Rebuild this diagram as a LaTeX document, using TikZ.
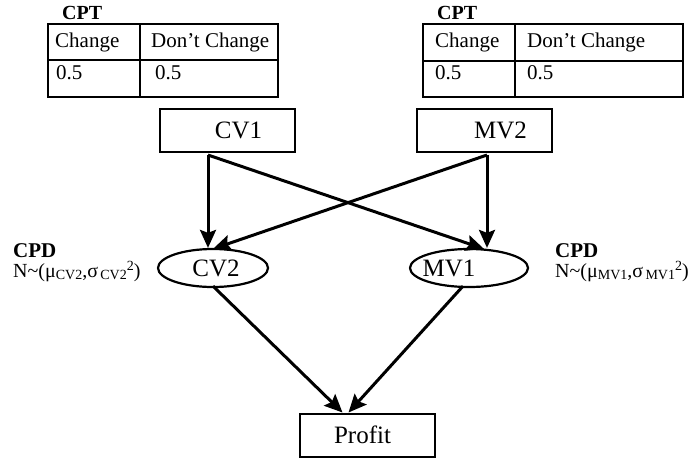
\documentclass[tikz,border=0pt]{standalone}
\usepackage{fontspec}
\setmainfont{Liberation Serif}
\usetikzlibrary{arrows.meta,shapes.geometric,calc}

\newcommand{\subx}[1]{\raisebox{-2.5pt}{\fontsize{14}{14}\selectfont #1}}
\newcommand{\supx}[1]{\raisebox{7pt}{\fontsize{14}{14}\selectfont #1}}

\begin{document}
\begin{tikzpicture}[x=1pt,y=-1pt,
  tbl/.style={line width=1.3pt},
  cell/.style={anchor=base west,inner sep=0pt,font=\fontsize{21}{24}\selectfont},
  ncell/.style={anchor=base west,inner sep=0pt,font=\fontsize{20}{24}\selectfont},
  ttl/.style={anchor=base west,inner sep=0pt,font=\fontsize{20}{22}\selectfont\bfseries},
  varbox/.style={draw,line width=2pt,rectangle,minimum width=135pt,minimum height=43pt,inner sep=0pt},
  varell/.style={draw,line width=2.2pt,ellipse,inner sep=0pt},
  lbl/.style={inner sep=0pt,font=\fontsize{25}{28}\selectfont},
  arr/.style={line width=3pt,-{Stealth[length=18pt,width=16pt,inset=3pt]}},
]
\useasboundingbox (0,0) rectangle (688,458);

% left CPT table
\draw[tbl] (48,24) rectangle (278,97);
\draw[tbl] (48,60) -- (278,60);
\draw[tbl] (140,24) -- (140,97);
\node[ttl] (cpt1) at (62,19) {CPT};
\node[cell] (c1a) at (55,47) {Change};
\node[cell] (c1b) at (151,47) {Don’t Change};
\node[cell] (c1c) at (56,79) {0.5};
\node[cell] (c1d) at (155,79) {0.5};

% right CPT table
\draw[tbl] (423,24) rectangle (683,97);
\draw[tbl] (423,61) -- (683,61);
\draw[tbl] (515,24) -- (515,97);
\node[ttl] (cpt2) at (437,19) {CPT};
\node[cell] (c2a) at (435,47) {Change};
\node[cell] (c2b) at (527,47) {Don’t Change};
\node[cell] (c2c) at (435,79) {0.5};
\node[cell] (c2d) at (527,79) {0.5};

% variable nodes
\node[varbox] (cv1) at (227.5,130) {};
\node[lbl] (cv1t) at ([xshift=11pt]cv1.center) {CV1};
\node[varbox] (mv2) at (484.5,130) {};
\node[lbl] (mv2t) at ([xshift=16pt]mv2.center) {MV2};

\node[varell,minimum width=110pt,minimum height=38pt] (cv2) at (213,268) {};
\node[lbl] (cv2t) at ([xshift=3pt]cv2.center) {CV2};
\node[varell,minimum width=118pt,minimum height=38pt] (mv1) at (469,268) {};
\node[lbl] (mv1t) at ([xshift=-20pt]mv1.center) {MV1};

\node[varbox] (profit) at (367.5,435) {};
\node[lbl] (profitt) at ([xshift=-5pt]profit.center) {Profit};

% CPD labels
\node[ttl,font=\fontsize{21}{24}\selectfont\bfseries] (cpd1) at (13,257) {CPD};
\node[ncell] (n1) at (13,277) {N\textasciitilde(μ\subx{CV2},σ\subx{\,CV2}\supx{2})};
\node[ttl,font=\fontsize{21}{24}\selectfont\bfseries] (cpd2) at (555,257) {CPD};
\node[ncell] (n2) at (555,277) {N\textasciitilde(μ\subx{MV1},σ\subx{\,MV1}\supx{2})};

% connectors
\coordinate (cv1out) at (208,155);
\coordinate (mv2out) at (487,155);
\draw[arr] (cv1out) -- (cv1out |- cv2.north);
\draw[arr] (cv1out) -- ($(mv1.north -| mv2out)+(-3,1)$);
\draw[arr] (mv2out) -- (mv2out |- mv1.north);
\draw[arr] (mv2out) -- ($(cv2.north -| cv1out)+(5,1)$);
\draw[arr] ($(cv2.south)+(0,-2)$) -- ($(profit.north)+(-25,0)$);
\draw[arr] ($(mv1.south)+(-6,-2)$) -- ($(profit.north)+(-19,0)$);
\end{tikzpicture}
\end{document}
